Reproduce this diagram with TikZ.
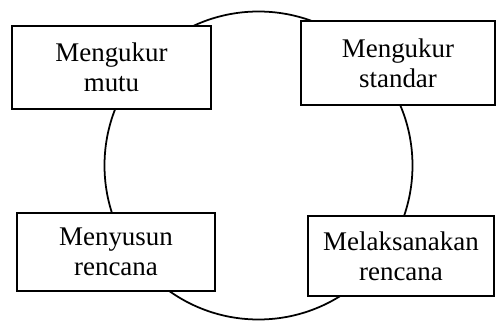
\documentclass[tikz,border=0pt]{standalone}
\usepackage{fontspec}
\setmainfont{Liberation Serif}
\usetikzlibrary{positioning}

\begin{document}
\begin{tikzpicture}[every node/.style={font=\fontsize{23}{25.6}\selectfont},
	kotak/.style={draw, fill=white, line width=1.5pt, align=center, inner sep=0pt}]
	\useasboundingbox (0,0) rectangle (14.88,9.75);
	%---------------- CYCLE ----------------
	\coordinate (pusat) at (7.755,4.785);
	\draw[line width=1.5pt] (pusat) circle (4.62);
	
	%---------------- BOXES ----------------
	\node[kotak, minimum width=5.97cm, minimum height=2.49cm] (mutu) at (3.345,7.725) {Mengukur\\mutu};
	\node[kotak, minimum width=5.82cm, minimum height=2.52cm] (standar) at (11.94,7.86) {Mengukur\\standar};
	\node[kotak, minimum width=5.94cm, minimum height=2.34cm] (susun) at (3.48,2.19) {Menyusun\\rencana};
	\node[kotak, minimum width=5.58cm, minimum height=2.40cm] (laksana) at (12.03,2.07) {Melaksanakan\\rencana};
\end{tikzpicture}
\end{document}
